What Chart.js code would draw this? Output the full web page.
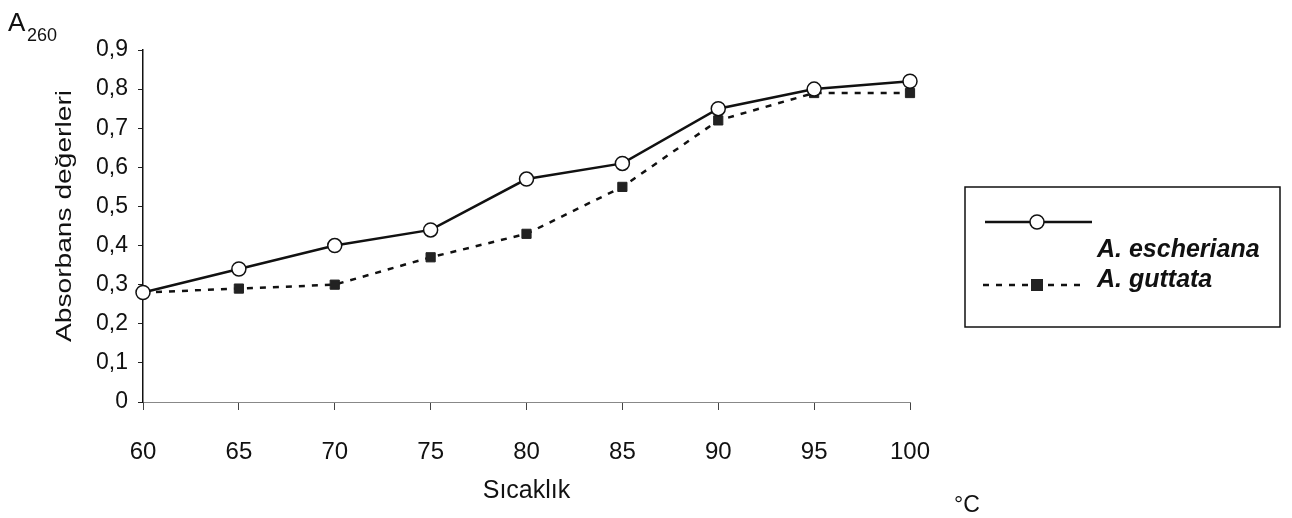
<!DOCTYPE html>
<html>
<head>
<meta charset="utf-8">
<script src="https://cdn.jsdelivr.net/npm/chart.js@4/dist/chart.umd.min.js"></script>
<style>
  html, body { margin: 0; padding: 0; background: #fff; }
  #kutu { width: 1292px; height: 518px; }
</style>
</head>
<body>
<div id="kutu"><canvas id="grafikSicaklik"></canvas></div>
<script>
// sıcaklık değerleri (°C)
const sicakliklar = ['60', '65', '70', '75', '80', '85', '90', '95', '100'];
// A260 absorbans değerleri
const escheriana = [0.28, 0.34, 0.40, 0.44, 0.57, 0.61, 0.75, 0.80, 0.82];
const guttata = [0.28, 0.29, 0.30, 0.37, 0.43, 0.55, 0.72, 0.79, 0.79];
const yEtiketler = [0, 0.1, 0.2, 0.3, 0.4, 0.5, 0.6, 0.7, 0.8, 0.9];
const yBaslik = 'Absorbans değerleri';

const yazi = '"Liberation Sans", Arial, sans-serif';

// kutulu açıklama, y başlığı, A260 ve °C yazıları
const ekYazilar = {
    id: 'ekYazilar',
    afterDraw(chart) {
        const ctx = chart.ctx;
        const ds = chart.data.datasets;
        ctx.save();
        ctx.fillStyle = '#111';
        ctx.textBaseline = 'alphabetic';
        ctx.font = '26px ' + yazi;
        ctx.fillText('A', 8, 31);
        ctx.font = '18px ' + yazi;
        ctx.fillText('260', 27, 41);
        ctx.font = '23px ' + yazi;
        ctx.fillText('°C', 954, 512);

        // y başlığı (taramadaki gibi boyuna uzamış)
        ctx.save();
        ctx.translate(65, 216);
        ctx.rotate(-Math.PI / 2);
        ctx.scale(1.28, 1);
        ctx.textAlign = 'center';
        ctx.textBaseline = 'middle';
        ctx.font = '22px ' + yazi;
        ctx.fillText(yBaslik, 0, 0);
        ctx.restore();

        // açıklama kutusu
        ctx.strokeStyle = '#111';
        ctx.lineWidth = 1.5;
        ctx.strokeRect(965, 187, 315, 140);

        ctx.lineWidth = ds[0].borderWidth;
        ctx.setLineDash([]);
        ctx.beginPath();
        ctx.moveTo(985, 222);
        ctx.lineTo(1092, 222);
        ctx.stroke();
        ctx.beginPath();
        ctx.arc(1037, 222, ds[0].pointRadius, 0, Math.PI * 2);
        ctx.fillStyle = ds[0].pointBackgroundColor;
        ctx.fill();
        ctx.lineWidth = ds[0].pointBorderWidth;
        ctx.stroke();

        ctx.lineWidth = ds[1].borderWidth;
        ctx.setLineDash(ds[1].borderDash);
        ctx.beginPath();
        ctx.moveTo(983, 285);
        ctx.lineTo(1080, 285);
        ctx.stroke();
        ctx.setLineDash([]);
        ctx.fillStyle = ds[1].pointBackgroundColor;
        ctx.fillRect(1037 - 6, 285 - 6, 12, 12);

        ctx.fillStyle = '#111';
        ctx.font = 'italic bold 25px ' + yazi;
        ctx.fillText(ds[0].label, 1097, 257);
        ctx.fillText(ds[1].label, 1097, 287);
        ctx.restore();
    }
};

const grafik = new Chart(document.getElementById('grafikSicaklik'), {
    type: 'line',
    data: {
        labels: sicakliklar,
        datasets: [{
            label: 'A. escheriana',
            data: escheriana,
            borderColor: '#111',
            borderWidth: 2.5,
            pointStyle: 'circle',
            pointRadius: 7,
            pointBackgroundColor: '#fff',
            pointBorderColor: '#111',
            pointBorderWidth: 1.5,
            tension: 0,
            clip: false
        }, {
            label: 'A. guttata',
            data: guttata,
            borderColor: '#111',
            borderWidth: 2.5,
            borderDash: [6, 7],
            pointStyle: 'rect',
            pointRadius: 6.5,
            pointBackgroundColor: '#222',
            pointBorderColor: '#222',
            pointBorderWidth: 1,
            tension: 0,
            clip: false
        }]
    },
    options: {
        responsive: true,
        maintainAspectRatio: false,
        animation: false,
        devicePixelRatio: 1,
        layout: { padding: { left: 50, right: 382, top: 50, bottom: 10 } },
        plugins: {
            legend: { display: false },
            tooltip: { enabled: false }
        },
        scales: {
            x: {
                type: 'category',
                offset: false,
                grid: { drawOnChartArea: false, drawTicks: true, tickLength: 8, color: '#444', lineWidth: 1 },
                border: { display: true, color: '#888', width: 1, dash: [3, 4] },
                ticks: { color: '#111', padding: 28, font: { family: yazi, size: 24 }, maxRotation: 0 },
                title: { display: true, text: 'Sıcaklık', color: '#111', padding: { top: 0, bottom: 2 }, font: { family: yazi, size: 25 } },
                afterFit: s => { s.height = 518 - 402 - 10; }
            },
            y: {
                min: 0,
                max: 0.9,
                afterBuildTicks: s => { s.ticks = yEtiketler.map(v => ({ value: v })); },
                grid: { drawOnChartArea: false, drawTicks: true, tickLength: 5, color: '#222', lineWidth: 1 },
                border: { display: true, color: '#111', width: 1.5 },
                ticks: {
                    color: '#111',
                    padding: 10,
                    font: { family: yazi, size: 23 },
                    callback: v => v === 0 ? '0' : v.toFixed(1).replace('.', ',')
                },
                afterFit: s => { s.width = 143 - 50; }
            }
        }
    },
    plugins: [ekYazilar]
});
</script>
</body>
</html>
